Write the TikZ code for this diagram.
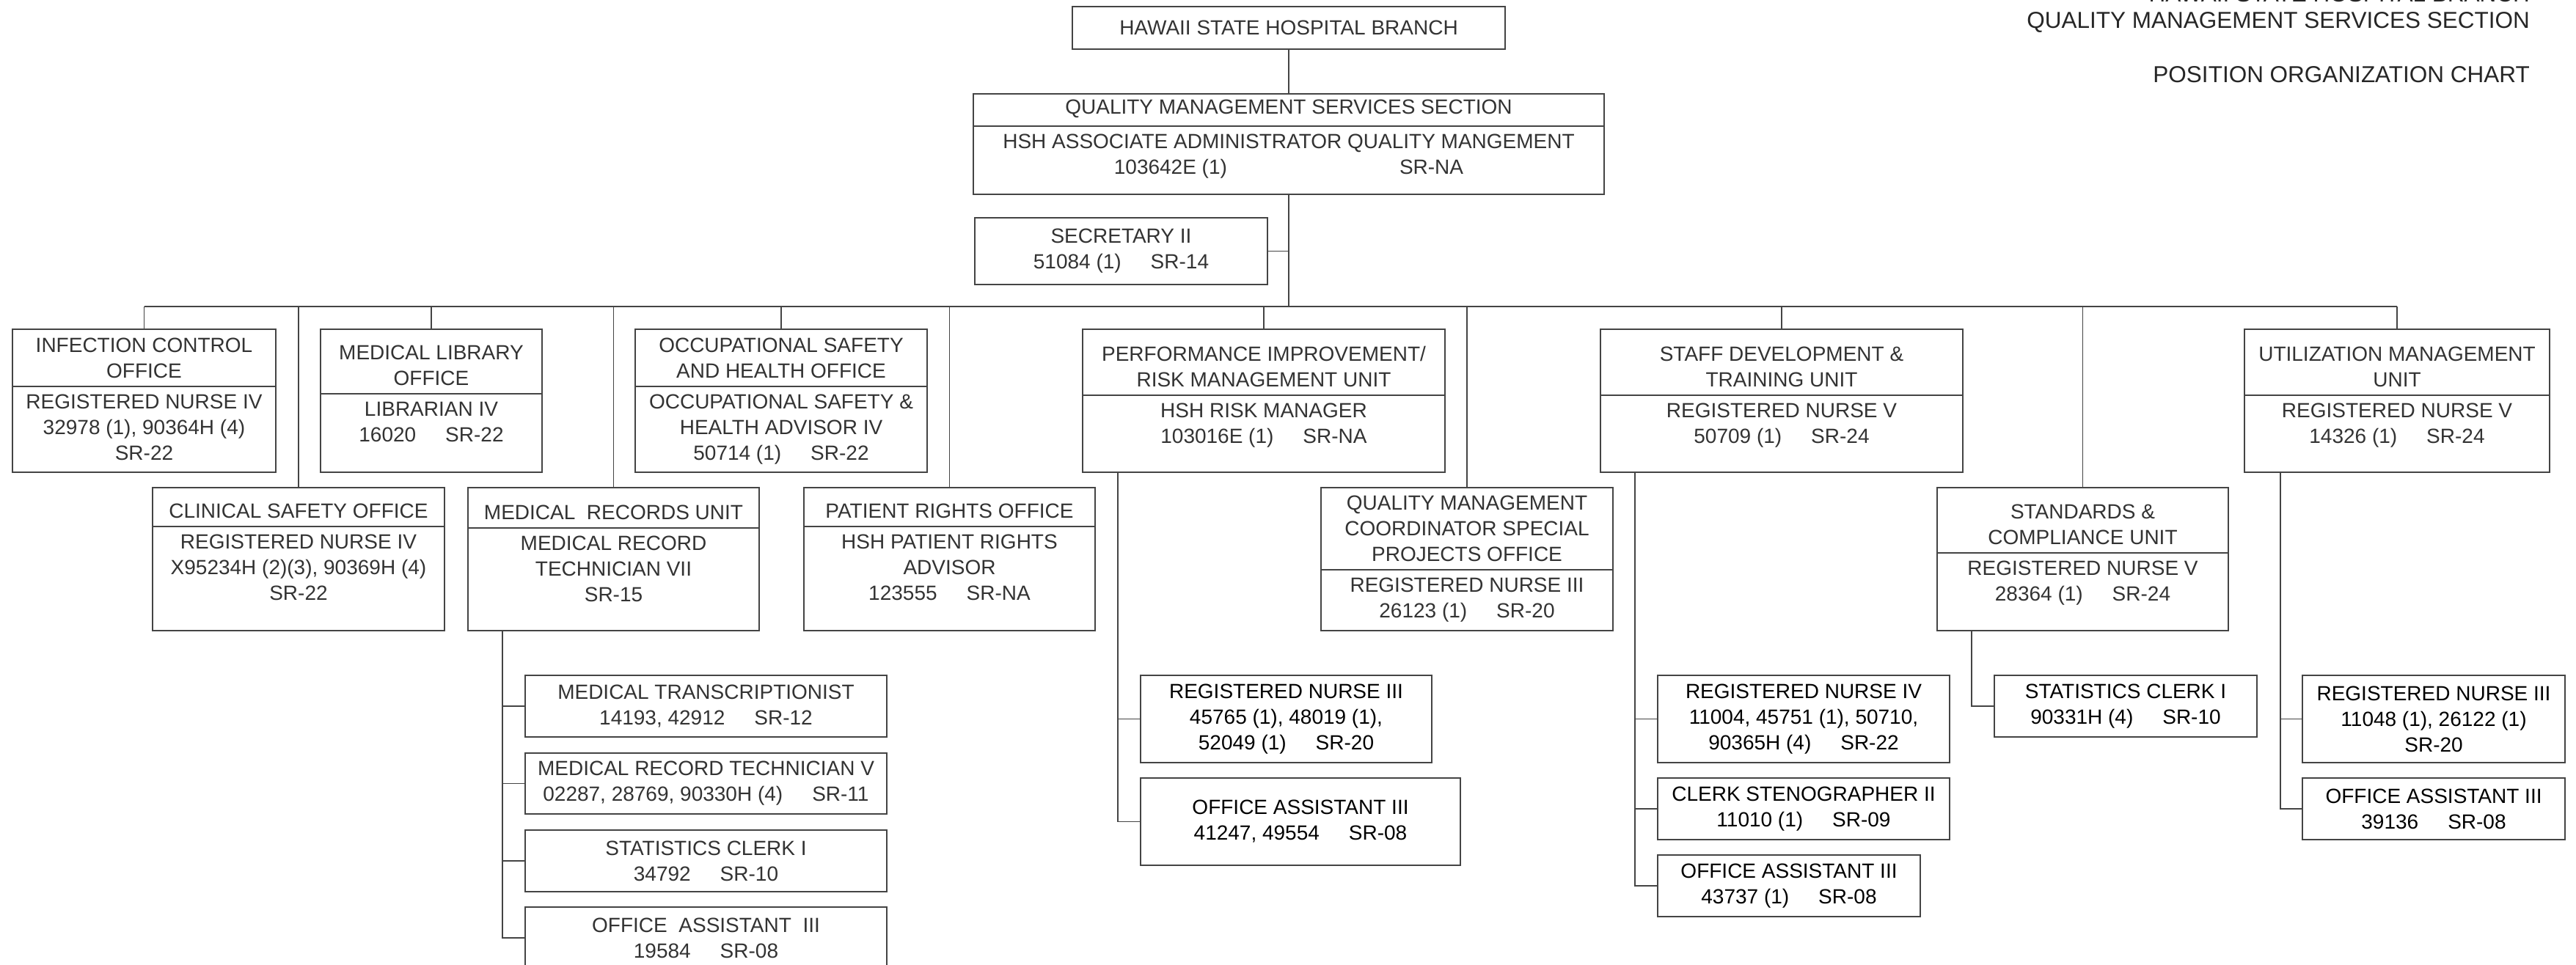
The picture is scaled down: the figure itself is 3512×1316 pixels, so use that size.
\documentclass[tikz,border=0pt]{standalone}
\usepackage{fontspec}
\setmainfont{Liberation Sans}
\definecolor{linec}{HTML}{444444}
\definecolor{txtc}{HTML}{333333}
\tikzset{
  frame/.style={draw=linec, line width=1.8pt, inner sep=0pt, minimum width=#1},
  rule/.style={draw=linec, line width=1.8pt},
  txt/.style={align=center, inner sep=0pt, text=txtc, font=\fontsize{28}{35}\selectfont},
  ttl/.style={inner sep=0pt, text=black!85, font=\fontsize{31.5}{36}\selectfont, anchor=base east},
}
\newcommand{\gp}{\hspace{40pt}}
% leaf box: name, x1, y1, x2, y2, text, colour
\newcommand{\leafbox}[7]{%
  \node[frame={(#4-#2)*1pt}, minimum height={(#5-#3)*1pt}] (#1) at ({(#2+#4)/2},{(#3+#5)/2}) {};
  \node[txt, text=#7] (#1-t) at (#1.center) {#6};
}
% divided unit box: name, x1, y1, x2, y2, ydiv, title, body
\newcommand{\unitbox}[8]{%
  \node[frame={(#4-#2)*1pt}, minimum height={(#5-#3)*1pt}] (#1) at ({(#2+#4)/2},{(#3+#5)/2}) {};
  \coordinate (#1-dl) at (#2,#6);
  \coordinate (#1-dr) at (#4,#6);
  \draw[rule] (#1-dl) -- (#1-dr);
  \node[txt, anchor=south] (#1-h) at ({(#2+#4)/2},{#6-11}) {#7};
  \node[txt, anchor=north] (#1-b) at ({(#2+#4)/2},{#6+11}) {#8};
}
\begin{document}
\begin{tikzpicture}[x=1pt,y=-1pt]
\useasboundingbox (0,0) rectangle (3512,1316);
\fill[white] (0,0) rectangle (3512,1316);

% title block
\node[ttl] (t1) at (3449,3) {HAWAII STATE HOSPITAL BRANCH};
\node[ttl] (t2) at (3449,39) {QUALITY MANAGEMENT SERVICES SECTION};
\node[ttl] (t3) at (3449,113) {POSITION ORGANIZATION CHART};

% top
\leafbox{hsb}{1462}{9}{2052}{67}{HAWAII STATE HOSPITAL BRANCH}{txtc}
\unitbox{qms}{1327}{128}{2187}{265}{172}{QUALITY MANAGEMENT SERVICES SECTION}{HSH ASSOCIATE ADMINISTRATOR QUALITY MANGEMENT\\103642E (1)\hspace{235pt}SR-NA}
\leafbox{sec}{1329}{297}{1728}{388}{SECRETARY II\\51084 (1)\gp SR-14}{txtc}

% upper row
\unitbox{inf}{17}{449}{376}{644}{527}{INFECTION CONTROL\\OFFICE}{REGISTERED NURSE IV\\32978 (1), 90364H (4)\\SR-22}
\unitbox{lib}{437}{449}{739}{644}{537}{MEDICAL LIBRARY\\OFFICE}{LIBRARIAN IV\\16020\gp SR-22}
\unitbox{occ}{866}{449}{1264}{644}{527}{OCCUPATIONAL SAFETY\\AND HEALTH OFFICE}{OCCUPATIONAL SAFETY \&\\HEALTH ADVISOR IV\\50714 (1)\gp SR-22}
\unitbox{pi}{1476}{449}{1970}{644}{539}{PERFORMANCE IMPROVEMENT/\\RISK MANAGEMENT UNIT}{HSH RISK MANAGER\\103016E (1)\gp SR-NA}
\unitbox{sd}{2182}{449}{2676}{644}{539}{STAFF DEVELOPMENT \&\\TRAINING UNIT}{REGISTERED NURSE V\\50709 (1)\gp SR-24}
\unitbox{um}{3060}{449}{3476}{644}{539}{UTILIZATION MANAGEMENT\\UNIT}{REGISTERED NURSE V\\14326 (1)\gp SR-24}

% lower row
\unitbox{cs}{208}{665}{606}{860}{718}{CLINICAL SAFETY OFFICE}{REGISTERED NURSE IV\\X95234H (2)(3), 90369H (4)\\SR-22}
\unitbox{mr}{638}{665}{1035}{860}{720}{MEDICAL\ \ RECORDS UNIT}{MEDICAL RECORD\\TECHNICIAN VII\\SR-15}
\unitbox{pr}{1096}{665}{1493}{860}{718}{PATIENT RIGHTS OFFICE}{HSH PATIENT RIGHTS\\ADVISOR\\123555\gp SR-NA}
\unitbox{qmc}{1801}{665}{2199}{860}{777}{QUALITY MANAGEMENT\\COORDINATOR SPECIAL\\PROJECTS OFFICE}{REGISTERED NURSE III\\26123 (1)\gp SR-20}
\unitbox{sc}{2641}{665}{3038}{860}{754}{STANDARDS \&\\COMPLIANCE UNIT}{REGISTERED NURSE V\\28364 (1)\gp SR-24}

% sub positions
\leafbox{mr1}{716}{921}{1209}{1005}{MEDICAL TRANSCRIPTIONIST\\14193, 42912\gp SR-12}{txtc}
\leafbox{mr2}{716}{1027}{1209}{1110}{MEDICAL RECORD TECHNICIAN V\\02287, 28769, 90330H (4)\gp SR-11}{txtc}
\leafbox{mr3}{716}{1132}{1209}{1216}{STATISTICS CLERK I\\34792\gp SR-10}{txtc}
\leafbox{mr4}{716}{1237}{1209}{1321}{OFFICE\ \ ASSISTANT\ \ III\\19584\gp SR-08}{txtc}

\leafbox{pi1}{1555}{921}{1952}{1040}{REGISTERED NURSE III\\45765 (1), 48019 (1),\\52049 (1)\gp SR-20}{black}
\leafbox{pi2}{1555}{1061}{1991}{1180}{OFFICE ASSISTANT III\\41247, 49554\gp SR-08}{black}

\leafbox{sd1}{2260}{921}{2658}{1040}{REGISTERED NURSE IV\\11004, 45751 (1), 50710,\\90365H (4)\gp SR-22}{black}
\leafbox{sd2}{2260}{1061}{2658}{1145}{CLERK STENOGRAPHER II\\11010 (1)\gp SR-09}{black}
\leafbox{sd3}{2260}{1166}{2618}{1250}{OFFICE ASSISTANT III\\43737 (1)\gp SR-08}{black}

\leafbox{sc1}{2719}{921}{3077}{1005}{STATISTICS CLERK I\\90331H (4)\gp SR-10}{black}

\leafbox{um1}{3139}{921}{3497}{1040}{REGISTERED NURSE III\\11048 (1), 26122 (1)\\SR-20}{black}
\leafbox{um2}{3139}{1061}{3497}{1145}{OFFICE ASSISTANT III\\39136\gp SR-08}{black}

% connectors
\coordinate (busy) at (0,418);
\draw[rule] (hsb.south) -- (qms.north);
\draw[rule] (qms.south) -- (qms.south |- busy);
\draw[rule] (sec.east) -- (sec.east -| qms.south);
\draw[rule] (inf.north |- busy) -- (um.north |- busy);
\foreach \n in {inf,lib,occ,pi,sd,um,cs,mr,pr,qmc,sc}
  \draw[rule] (\n.north |- busy) -- (\n.north);

\coordinate (mrs) at (685,860);
\coordinate (pis) at (1524,644);
\coordinate (sds) at (2229,644);
\coordinate (scs) at (2688,860);
\coordinate (ums) at (3109,644);
\foreach \n in {mr1,mr2,mr3,mr4} \draw[rule] (mrs) |- (\n.west);
\foreach \n in {pi1,pi2} \draw[rule] (pis) |- (\n.west);
\foreach \n in {sd1,sd2,sd3} \draw[rule] (sds) |- (\n.west);
\draw[rule] (scs) |- (sc1.west);
\foreach \n in {um1,um2} \draw[rule] (ums) |- (\n.west);
\end{tikzpicture}
\end{document}
